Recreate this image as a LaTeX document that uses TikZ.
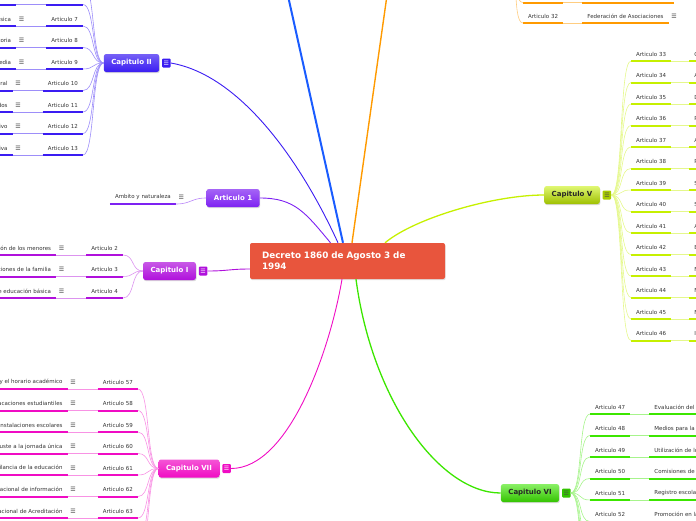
\documentclass[tikz,border=0pt]{standalone}
\usepackage{fontspec}
\setmainfont{DejaVu Sans}
\usetikzlibrary{positioning,calc,shadows}

\definecolor{decred}{HTML}{E8553D}
\definecolor{captwo}{HTML}{3A1CF2}
\definecolor{capblue}{HTML}{1A5CFF}
\definecolor{caporange}{HTML}{FF9A00}
\definecolor{artone}{HTML}{7E22F2}
\definecolor{capone}{HTML}{B010DC}
\definecolor{capseven}{HTML}{F00CC4}
\definecolor{capfive}{HTML}{C6F000}
\definecolor{capsix}{HTML}{3CE600}

\newcommand{\menuicon}{☰}

\begin{document}
\begin{tikzpicture}[
  x=1pt, y=-1pt,
  every node/.style={font=\fontsize{5.5}{6.6}\selectfont, text=black!80},
  topic/.style={
    fill=decred, rounded corners=2pt, text width=171pt, align=left,
    inner xsep=12pt, inner ysep=0pt, minimum height=36pt, text=white,
    font=\fontsize{8.8}{11}\selectfont\bfseries,
    drop shadow={shadow xshift=0.6pt, shadow yshift=-1.2pt, opacity=0.25},
  },
  chap/.style={
    rounded corners=2.5pt, minimum height=18pt, inner xsep=7.5pt, inner ysep=0pt,
    text=white, font=\fontsize{7}{8}\selectfont\bfseries,
    drop shadow={shadow xshift=0.6pt, shadow yshift=-1.2pt, opacity=0.3},
  },
  chapicon/.style={
    rounded corners=1pt, minimum width=8.5pt, minimum height=9pt, inner sep=0pt,
    text=white, font=\fontsize{6}{6}\selectfont,
  },
  lbl/.style={inner xsep=5pt, inner ysep=1pt},
  leaf/.style={lbl, label={[menu]east:\menuicon}},
  menu/.style={inner sep=0pt, label distance=2.5pt, text=black!75, font=\fontsize{6}{6}\selectfont},
  ul/.style={line width=2pt},
  sub/.style={line width=0.6pt},
]
\useasboundingbox (0,0) rectangle (696,520);
\clip (0,0) rectangle (696,520);

% central topic
\node[topic] (dec) at (347.5,261) {Decreto 1860 de Agosto 3 de\\1994};

% chapters
\node[chap, top color=captwo!70!white, bottom color=captwo] (c2) at (131.5,63) {Capitulo II};
\node[chapicon, fill=captwo, right=2.5pt of c2] (c2i) {\menuicon};
\node[chap, top color=artone!70!white, bottom color=artone] (a1) at (233,198) {Articulo 1};
\node[chap, top color=capone!70!white, bottom color=capone] (c1) at (169.5,271) {Capitulo I};
\node[chapicon, fill=capone, right=2.5pt of c1] (c1i) {\menuicon};
\node[chap, top color=capseven!70!white, bottom color=capseven] (c7) at (189,468.5) {Capitulo VII};
\node[chapicon, fill=capseven, right=2.5pt of c7] (c7i) {\menuicon};
\node[chap, text=black!85, top color=capfive!55!white, bottom color=capfive!80!black] (c5) at (572,195) {Capitulo V};
\node[chapicon, fill=capfive!85!black, text=black!70, right=2.5pt of c5] (c5i) {\menuicon};
\node[chap, text=black!85, top color=capsix!60!white, bottom color=capsix!85!black] (c6) at (530,493) {Capitulo VI};
\node[chapicon, fill=capsix!85!black, text=black!70, right=2.5pt of c6] (c6i) {\menuicon};

% chapters above the picture
\coordinate (c3) at (280,-40);
\coordinate (c4) at (392,-40);
\coordinate (c4i) at (508,-50);

% main links
\draw[captwo, line width=0.9pt] (c2i.east) .. controls +(69,12) and +(-38,-83) .. ([xshift=-9.5pt]dec.north);
\draw[capblue, line width=2pt] ([xshift=-4.5pt]dec.north) -- (c3);
\draw[caporange, line width=1.4pt] ([xshift=4.5pt]dec.north) -- (c4);
\draw[artone, line width=0.9pt] (a1.east) .. controls +(35,0) and +(-25,-30) .. ([xshift=-17pt]dec.north);
\draw[capone, line width=0.9pt] (c1i.east) .. controls +(20,0) and +(-20,0) .. ([yshift=-8pt]dec.west);
\draw[capseven, line width=0.9pt] (c7i.east) .. controls +(58,0) and +(-12,71) .. ([xshift=-5.5pt]dec.south);
\draw[capfive, line width=1.3pt] ([xshift=37.5pt]dec.north) .. controls +(30,-25) and +(-50,0) .. (c5.west);
\draw[capsix, line width=1.3pt] ([xshift=8.5pt]dec.south) .. controls +(16,121) and +(-61,0) .. (c6.west);

% Capitulo II
\node[lbl, anchor=east, minimum width=36.4pt] (a6) at (83,-2.5) {};
\node[lbl, left=30pt of a6, minimum width=17pt] (t6) {};
\draw[ul, captwo] ([yshift=-7pt]a6.west) -- ([yshift=-7pt]a6.east);
\draw[ul, captwo] ([yshift=-7pt]t6.west) -- ([yshift=-7pt]t6.east);
\draw[sub, captwo!50] ([yshift=-7pt]t6.east) -- ([yshift=-7pt]a6.west);
\draw[sub, captwo!50] (c2.west) .. controls +(-12,0) and +(12,0) .. ([yshift=-7pt]a6.east);
\coordinate (u5) at (83,-17);
\draw[sub, captwo!50] (c2.west) .. controls +(-12,0) and +(12,0) .. (u5);
\foreach \n/\txt [evaluate=\n as \y using 19+21.5*(\n-7)] in
  {7/ásica, 8/toria, 9/edia, 10/eral, 11/dos, 12/tivo, 13/tiva} {
  \node[lbl, anchor=east] (a\n) at (83,\y) {Articulo \n};
  \node[leaf, left=30pt of a\n] (t\n) {\txt};
  \draw[ul, captwo] ([yshift=-7pt]a\n.west) -- ([yshift=-7pt]a\n.east);
  \draw[ul, captwo] ([yshift=-7pt]t\n.west) -- ([yshift=-7pt]t\n.east);
  \draw[sub, captwo!50] ([yshift=-7pt]t\n.east) -- ([yshift=-7pt]a\n.west);
  \draw[sub, captwo!50] (c2.west) .. controls +(-12,0) and +(12,0) .. ([yshift=-7pt]a\n.east);
}

% Articulo 1
\node[leaf, anchor=east] (t1) at (176,197) {Ambito y naturaleza};
\draw[ul, artone] ([yshift=-7pt]t1.west) -- ([yshift=-7pt]t1.east);
\draw[sub, artone!55] ([yshift=-7pt]t1.east) .. controls +(15,0) and +(-15,0) .. (a1.west);

% Capitulo I
\foreach \n/\txt [evaluate=\n as \y using 248+21.5*(\n-2)] in
  {2/ión de los menores, 3/ciones de la familia, 4/e educación básica} {
  \node[lbl, anchor=east] (a\n) at (123,\y) {Articulo \n};
  \node[leaf, left=30pt of a\n] (t\n) {\txt};
  \draw[ul, capone] ([yshift=-7pt]a\n.west) -- ([yshift=-7pt]a\n.east);
  \draw[ul, capone] ([yshift=-7pt]t\n.west) -- ([yshift=-7pt]t\n.east);
  \draw[sub, capone!45] ([yshift=-7pt]t\n.east) -- ([yshift=-7pt]a\n.west);
  \draw[sub, capone!45] (c1.west) .. controls +(-12,0) and +(12,0) .. ([yshift=-7pt]a\n.east);
}

% Capitulo VII
\foreach \n/\txt [evaluate=\n as \y using 382+21.5*(\n-57)] in
  {57/y el horario académico, 58/acaciones estudiantiles, 59/instalaciones escolares,
   60/uste a la jornada única, 61/gilancia de la educación, 62/lacional de información,
   63/acional de Acreditación} {
  \node[lbl, anchor=east] (a\n) at (138,\y) {Articulo \n};
  \node[leaf, left=30pt of a\n] (t\n) {\txt};
  \draw[ul, capseven] ([yshift=-7pt]a\n.west) -- ([yshift=-7pt]a\n.east);
  \draw[ul, capseven] ([yshift=-7pt]t\n.west) -- ([yshift=-7pt]t\n.east);
  \draw[sub, capseven!45] ([yshift=-7pt]t\n.east) -- ([yshift=-7pt]a\n.west);
  \draw[sub, capseven!45] (c7.west) .. controls +(-12,0) and +(12,0) .. ([yshift=-7pt]a\n.east);
}
\coordinate (u64) at (138,539);
\coordinate (u65) at (138,560.5);
\draw[sub, capseven!45] (c7.west) .. controls +(-12,0) and +(12,0) .. (u64);
\draw[sub, capseven!45] (c7.west) .. controls +(-12,0) and +(12,0) .. (u65);

% Capitulo V
\foreach \n/\txt [evaluate=\n as \y using 54+21.5*(\n-33)] in
  {33/C, 34/A, 35/D, 36/P, 37/A, 38/P, 39/S, 40/S, 41/A, 42/B, 43/M, 44/M, 45/M, 46/I} {
  \node[lbl, anchor=west] (a\n) at (631,\y) {Articulo \n};
  \node[leaf, right=18pt of a\n] (t\n) {\txt};
  \draw[ul, capfive] ([yshift=-7pt]a\n.west) -- ([yshift=-7pt]a\n.east);
  \draw[ul, capfive] ([yshift=-7pt]t\n.west) -- ++(60,0);
  \draw[sub, capfive!45] ([yshift=-7pt]a\n.east) -- ([yshift=-7pt]t\n.west);
  \draw[sub, capfive!45] (c5i.east) .. controls +(12,0) and +(-12,0) .. ([yshift=-7pt]a\n.west);
}

% Capitulo VI
\foreach \n/\txt [evaluate=\n as \y using 407+21.5*(\n-47)] in
  {47/Evaluación del, 48/Medios para la, 49/Utilización de lo, 50/Comisiones de,
   51/Registro escola, 52/Promoción en la} {
  \node[lbl, anchor=west] (a\n) at (590,\y) {Articulo \n};
  \node[leaf, right=19pt of a\n] (t\n) {\txt};
  \draw[ul, capsix] ([yshift=-7pt]a\n.west) -- ([yshift=-7pt]a\n.east);
  \draw[ul, capsix] ([yshift=-7pt]t\n.west) -- ++(60,0);
  \draw[sub, capsix!45] ([yshift=-7pt]a\n.east) -- ([yshift=-7pt]t\n.west);
  \draw[sub, capsix!45] (c6i.east) .. controls +(12,0) and +(-12,0) .. ([yshift=-7pt]a\n.west);
}
\coordinate (u53) at (590,542.5);
\coordinate (u54) at (590,564);
\coordinate (u55) at (590,585.5);
\foreach \u in {u53,u54,u55}
  \draw[sub, capsix!45] (c6i.east) .. controls +(12,0) and +(-12,0) .. (\u);

% orange chapter, rows 31-32
\node[lbl, anchor=west, minimum width=39.9pt] (a31) at (523,-4.5) {};
\node[lbl, right=19pt of a31, minimum width=91pt] (t31) {};
\node[lbl, anchor=west] (a32) at (523,16) {Articulo 32};
\node[leaf, right=19pt of a32] (t32) {Federación de Asociaciones};
\foreach \n in {31,32} {
  \draw[ul, caporange] ([yshift=-7pt]a\n.west) -- ([yshift=-7pt]a\n.east);
  \draw[ul, caporange] ([yshift=-7pt]t\n.west) -- ([yshift=-7pt]t\n.east);
  \draw[sub, caporange!50] ([yshift=-7pt]a\n.east) -- ([yshift=-7pt]t\n.west);
  \draw[sub, caporange!50] (c4i) .. controls +(12,0) and +(-12,0) .. ([yshift=-7pt]a\n.west);
}

\end{tikzpicture}
\end{document}
